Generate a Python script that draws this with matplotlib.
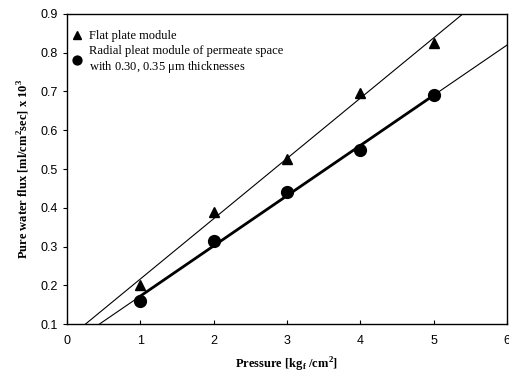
import numpy as np
import matplotlib.pyplot as plt

pressure = [1, 2, 3, 4, 5]
flat_plate = [0.20, 0.39, 0.525, 0.695, 0.825]
radial_pleat = [0.16, 0.315, 0.44, 0.55, 0.69]

flat_label = 'Flat plate module'
radial_label = 'Radial pleat module of permeate space\nwith 0.30, 0.35 $\\mathregular{\\mu}$m thicknesses'

fig = plt.figure(figsize=(5.1, 3.76), dpi=100)
ax = fig.add_axes([0.131, 0.138, 0.863, 0.825])

xfit = np.linspace(0, 6, 200)

# flat plate: markers + linear trend
p1 = np.polyfit(pressure, flat_plate, 1)
ax.plot(xfit, np.polyval(p1, xfit), color='black', lw=0.8)
ax.plot(pressure, flat_plate, '^', color='black', ms=7.5, label=flat_label)

# radial pleat: thin trend over full range, thick between data points
p2 = np.polyfit(pressure, radial_pleat, 1)
ax.plot(xfit, np.polyval(p2, xfit), color='black', lw=0.8)
xin = np.array([pressure[0], pressure[-1]])
ax.plot(xin, np.polyval(p2, xin), color='black', lw=2)
ax.plot(pressure, radial_pleat, 'o', color='black', ms=8.5, label=radial_label)

ax.set_xlim(0, 6)
ax.set_ylim(0.1, 0.9)
ax.set_xticks(range(0, 7))
ax.set_yticks(np.arange(0.1, 0.91, 0.1))
ax.set_yticklabels(['%.1f' % v for v in np.arange(0.1, 0.91, 0.1)])
ax.tick_params(axis='x', direction='in', length=3, labelsize=9, pad=8)
ax.tick_params(axis='y', direction='out', length=3, labelsize=9)
for lab in ax.get_xticklabels() + ax.get_yticklabels():
    lab.set_family('Liberation Sans')
for sp in ax.spines.values():
    sp.set_linewidth(1.0)

ax.set_xlabel('Pressure [kg$_\\mathregular{f}$ /cm$^\\mathregular{2}$]', family='Liberation Serif',
              fontweight='bold', fontsize=9, labelpad=6)
ax.set_ylabel('Pure water flux [ml/cm$^\\mathregular{2}$sec] x 10$^\\mathregular{3}$', family='Liberation Serif',
              fontweight='bold', fontsize=9, labelpad=6)

leg = ax.legend(loc='upper left', bbox_to_anchor=(0.0, 0.968), frameon=False,
                prop={'family': 'Liberation Serif', 'size': 9},
                handlelength=0.7, handletextpad=0.6, borderaxespad=0.1, labelspacing=0.2,
                markerscale=0.75)

plt.savefig('out.png', dpi=100)
